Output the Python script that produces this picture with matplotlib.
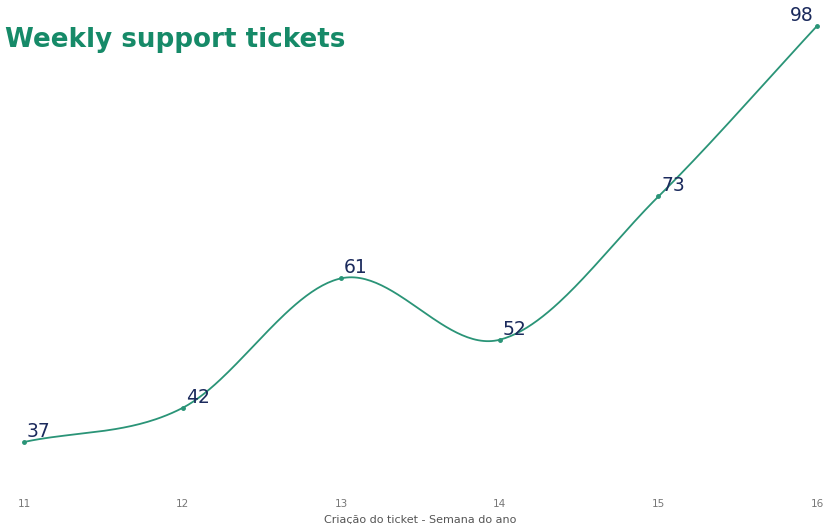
import numpy as np
import matplotlib
matplotlib.use("Agg")
import matplotlib.pyplot as plt

# weekly ticket counts
weeks = [11, 12, 13, 14, 15, 16]
tickets = [37, 42, 61, 52, 73, 98]

line_color = '#2a9477'
title_color = '#168a68'
label_color = '#1b2a5c'


def catmull_rom(x, y, n=60):
    # smooth curve through the points (cardinal spline)
    x = np.asarray(x, float); y = np.asarray(y, float)
    mx = np.gradient(y, x)
    mx[1:-1] = (y[2:] - y[:-2]) / (x[2:] - x[:-2])
    xs, ys = [], []
    for i in range(len(x) - 1):
        h = x[i + 1] - x[i]
        t = np.linspace(0, 1, n)
        h00 = 2*t**3 - 3*t**2 + 1; h10 = t**3 - 2*t**2 + t
        h01 = -2*t**3 + 3*t**2; h11 = t**3 - t**2
        xs.append(x[i] + t*h)
        ys.append(h00*y[i] + h10*h*mx[i] + h01*y[i+1] + h11*h*mx[i+1])
    return np.concatenate(xs), np.concatenate(ys)


W, H = 833, 524
fig = plt.figure(figsize=(W/100, H/100), dpi=100)
ax = fig.add_axes([24/W, 1 - 480/H, (817-24)/W, (480-15)/H])

sx, sy = catmull_rom(weeks, tickets)
ax.plot(sx, sy, color=line_color, lw=1.3, clip_on=False)
ax.plot(weeks, tickets, 'o', color=line_color, ms=2.5, clip_on=False)

for i, (w, t) in enumerate(zip(weeks, tickets)):
    if i == len(weeks) - 1:
        ax.annotate(str(t), (w, t), xytext=(-3, 1), textcoords='offset pixels',
                    ha='right', va='bottom', fontsize=13.5, color=label_color)
    else:
        ax.annotate(str(t), (w, t), xytext=(3, 1), textcoords='offset pixels',
                    ha='left', va='bottom', fontsize=13.5, color=label_color)

ax.set_xlim(11, 16)
ax.set_ylim(37 - (480-442)/6.82, 98 + (26-15)/6.82)
ax.set_xticks(weeks)
ax.set_yticks([])
ax.tick_params(axis='x', length=0, pad=14, labelsize=7.5, labelcolor='#777777')
for s in ax.spines.values():
    s.set_visible(False)
ax.set_xlabel('Criação do ticket - Semana do ano', fontsize=8, color='#555555', labelpad=4)

fig.text(5/W, 1 - 40/H, 'Weekly support tickets', fontsize=18.8, fontweight='bold',
         color=title_color, family='DejaVu Sans', va='center', ha='left')

fig.savefig('out.png', dpi=100)
